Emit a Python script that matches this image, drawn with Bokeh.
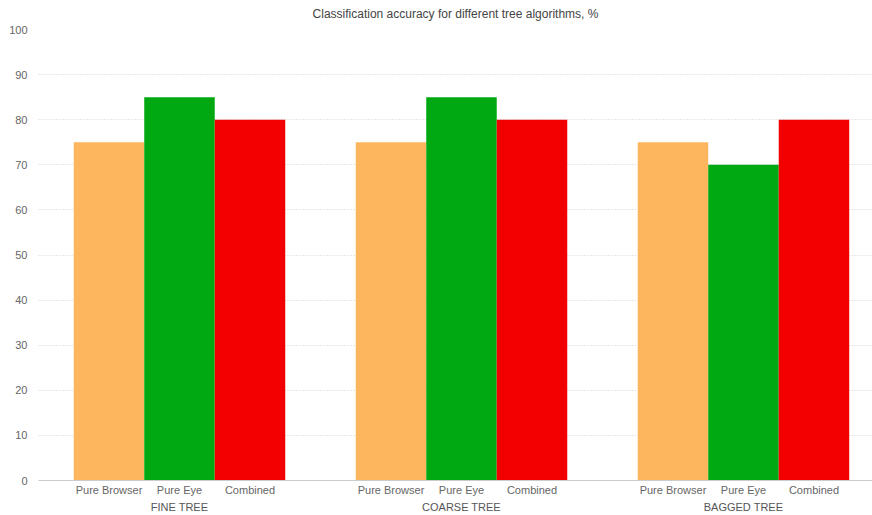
from bokeh.plotting import figure
from bokeh.models import Range1d, FixedTicker, LinearAxis, ColumnDataSource
from bokeh.embed import file_html
from bokeh.resources import INLINE

groups = ["FINE TREE", "COARSE TREE", "BAGGED TREE"]
series = ["Pure Browser", "Pure Eye", "Combined"]
pure_browser = [75, 75, 75]
pure_eye = [85, 85, 70]
combined = [80, 80, 80]
colors = ["#FEB65E", "#00A811", "#F20000"]
y_ticks = [0, 10, 20, 30, 40, 50, 60, 70, 80, 90, 100]

values = [pure_browser, pure_eye, combined]
xs, tops, cols, sub_over = [], [], [], {}
group_over = {}
for gi, g in enumerate(groups):
    group_over[4 * gi + 2] = g
    for si, s in enumerate(series):
        x = 4 * gi + si + 1
        xs.append(x)
        tops.append(values[si][gi])
        cols.append(colors[si])
        sub_over[x] = s

FONT = "Liberation Sans"
p = figure(width=872, height=515, output_backend="svg", toolbar_location=None,
           x_range=Range1d(0, 11.83), y_range=Range1d(0, 100),
           min_border_left=38, min_border_right=0, min_border_top=0, min_border_bottom=0,
           x_axis_location=None, y_axis_location="left")
p.title.text = "Classification accuracy for different tree algorithms, %"
p.title.align = "center"
p.title.vertical_align = "top"
p.title.text_font = FONT
p.title.text_font_size = "12px"
p.title.text_font_style = "normal"
p.title.text_color = "#444444"
p.title.standoff = 13
p.outline_line_color = None
p.background_fill_color = "white"
p.border_fill_color = "white"

src = ColumnDataSource(dict(x=xs, top=tops, color=cols))
p.vbar(x="x", top="top", width=1.0, bottom=0, color="color", line_color=None, source=src)

p.xgrid.visible = False
p.ygrid.grid_line_color = "#d0d0d0"
p.ygrid.grid_line_dash = "1 2"
p.ygrid.grid_line_width = 1

ya = p.yaxis[0]
ya.ticker = FixedTicker(ticks=y_ticks)
ya.axis_line_color = None
ya.major_tick_line_color = None
ya.minor_tick_line_color = None
ya.major_tick_out = 0
ya.major_tick_in = 0
ya.major_label_text_font = FONT
ya.major_label_text_font_size = "11px"
ya.major_label_text_color = "#666666"
ya.major_label_standoff = 11

ax1 = LinearAxis(ticker=FixedTicker(ticks=xs), major_label_overrides=sub_over)
ax1.axis_line_color = "#cccccc"
ax1.major_tick_line_color = None
ax1.minor_tick_line_color = None
ax1.major_tick_out = 0
ax1.major_tick_in = 0
ax1.major_label_text_font = FONT
ax1.major_label_text_font_size = "11px"
ax1.major_label_text_color = "#666666"
ax1.major_label_standoff = 3
p.add_layout(ax1, "below")

ax2 = LinearAxis(ticker=FixedTicker(ticks=list(group_over.keys())), major_label_overrides=group_over)
ax2.axis_line_color = None
ax2.major_tick_line_color = None
ax2.minor_tick_line_color = None
ax2.major_tick_out = 0
ax2.major_tick_in = 0
ax2.major_label_text_font = FONT
ax2.major_label_text_font_size = "11px"
ax2.major_label_text_color = "#555555"
ax2.major_label_standoff = 2
p.add_layout(ax2, "below")

open("out.html", "w").write(file_html(p, INLINE))
